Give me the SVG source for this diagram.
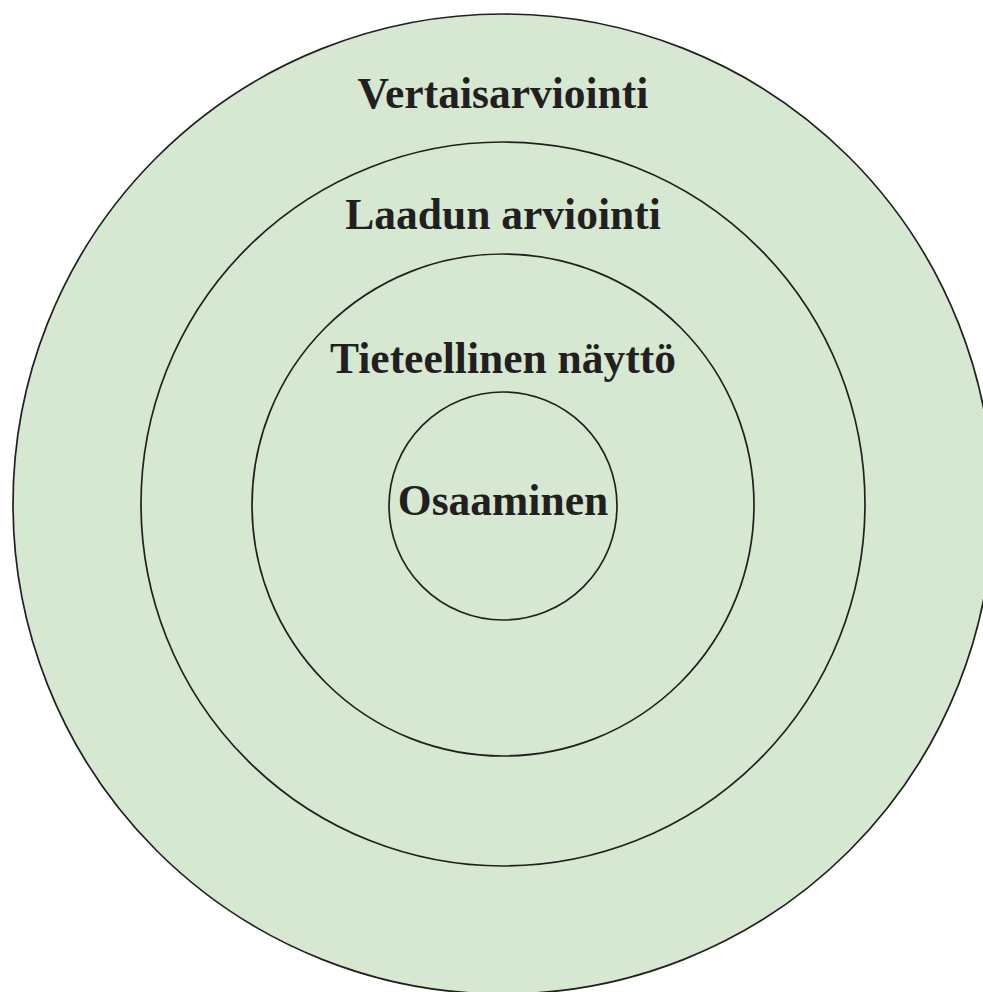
<svg xmlns="http://www.w3.org/2000/svg" width="983" height="992" viewBox="0 0 983 992">
<style>
.ring{fill:#d7e8d2;stroke:#231f20;stroke-width:1.7}
.lbl{font-family:"Liberation Serif","DejaVu Serif",serif;font-weight:bold;font-size:43.5px;fill:#231f20;text-anchor:middle}
</style>
<rect width="983" height="992" fill="#ffffff"/>
<g id="vertaisarviointi">
<circle class="ring" cx="503" cy="504" r="490"/>
<text class="lbl" x="503" y="108">Vertaisarviointi</text>
</g>
<g id="laadun-arviointi">
<circle class="ring" cx="503" cy="504" r="362"/>
<text class="lbl" x="503" y="229">Laadun arviointi</text>
</g>
<g id="tieteellinen-naytto">
<circle class="ring" cx="503" cy="505" r="251"/>
<text class="lbl" x="503" y="373">Tieteellinen näyttö</text>
</g>
<g id="osaaminen">
<circle class="ring" cx="503" cy="506" r="114"/>
<text class="lbl" x="503" y="515">Osaaminen</text>
</g>
<g id="connectors"/>
</svg>
